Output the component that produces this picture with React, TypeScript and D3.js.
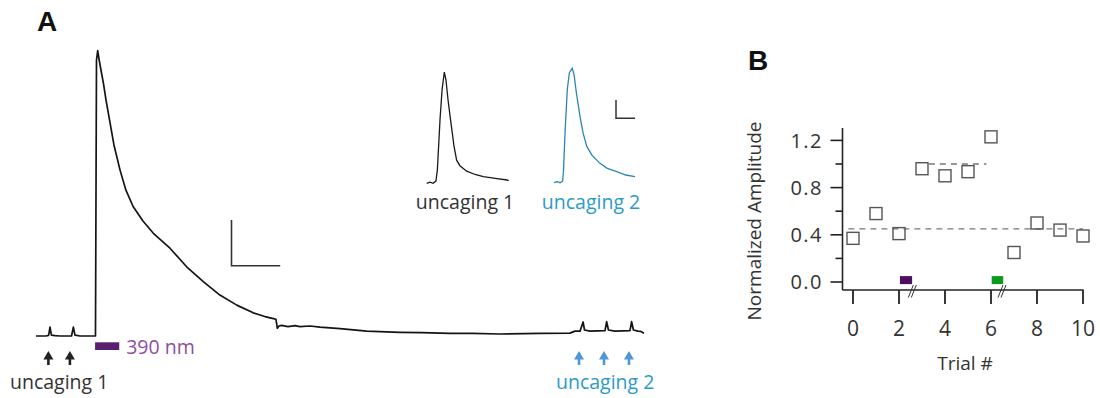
import React from 'react';
import * as d3 from 'd3';

// ---------- Panel A: main fluorescence trace (time s, amplitude a.u.) ----------
const traceTime = [
  0, 4.9, 6.2, 6.9, 7.6, 9.4, 11.8, 17.5, 18.4, 19.2, 21.7, 29.3,
  29.8, 30.4, 31, 32, 33.2, 34.5, 36.5, 38.4, 41.4, 44.3, 47.9, 52.7, 57.8,
  66, 74.2, 82.4, 90.6, 98.9, 107, 112.8, 116.9, 118.2, 118.9, 119.7, 121,
  124.1, 127.6, 130, 135, 139.9, 149.8, 162.9, 179.3, 190, 203.9, 215, 228.6,
  248.3, 263, 265.5, 268, 269.5, 270.2, 272.9, 280.3, 281.1,
  282, 285.2, 292.6, 293.4, 294.3, 296.5, 298, 299.5,
];
const traceValue = [
  0, 0, 0.2, 3.1, 0.3, 0.1, 0, 0, 3.1, 0.3, 0, 0,
  96.5, 99.8, 97, 93, 88.4, 82.5, 74.4, 66.8, 58, 51, 45.2, 40.2, 35.9,
  30.7, 24.2, 19, 14.3, 10.8, 8.1, 6.8, 6.1, 5.8, 2.7, 3.5, 3.7,
  3.3, 3.6, 3.3, 3.5, 3.1, 2.6, 1.7, 1.3, 1.2, 0.9, 0.9, 0.7,
  0.9, 1.0, 1.7, 1.7, 4.9, 2.1, 1.7, 1.9, 5.0,
  2.1, 1.7, 1.9, 5.0, 2.1, 1.7, 1.6, 1.0,
];
const uncaging1Arrows = [6.1, 16.7];
const uncaging2Arrows = [267.5, 279.8, 292.1];
const lightOn = [29.1, 41.0];
const mainScaleBar = { seconds: 24, amplitude: 16 };

// ---------- Panel A insets (time s, normalized) ----------
const inset1Time = [0, 1.6, 3.1, 4.5, 5.2, 6.5, 7.5, 8.6, 9.4, 10.4, 11.4, 12.4, 13.3, 14.6, 16.2, 19.5, 23.6, 27.6, 33.5, 39.2, 40];
const inset1Value = [0, 0.01, 0, 0.02, 0.12, 0.58, 0.85, 1.01, 0.94, 0.76, 0.61, 0.47, 0.34, 0.21, 0.16, 0.11, 0.08, 0.06, 0.044, 0.03, 0.025];
const inset2Time = [0, 1.5, 3, 4.2, 4.6, 5.5, 6.5, 7.5, 8.9, 9.8, 10.9, 12.7, 14.2, 16, 18.5, 22.4, 26, 30.6, 35, 39.5];
const inset2Value = [0, 0.01, 0, 0.015, 0.1, 0.5, 0.85, 1.0, 1.04, 0.98, 0.82, 0.6, 0.45, 0.33, 0.25, 0.176, 0.13, 0.1, 0.07, 0.055];
const insetScaleBar = { seconds: 9.3, amplitude: 0.166 };

// ---------- Panel B ----------
const trials = [0, 1, 2, 3, 4, 5, 6, 7, 8, 9, 10];
const amplitudes = [0.37, 0.58, 0.41, 0.96, 0.9, 0.935, 1.23, 0.25, 0.5, 0.44, 0.39];
const meanLow = { from: -0.2, to: 10, value: 0.45 };
const meanHigh = { from: 3.3, to: 5.8, value: 1.0 };
const yMajorTicks = [0, 0.4, 0.8, 1.2];
const yMinorTicks = [0.2, 0.6, 1.0];
const xTicks = [0, 2, 4, 6, 8, 10];
const lightMarkers = [
  { from: 2.04, to: 2.57, color: '#4e0f63' },
  { from: 6.03, to: 6.53, color: '#0b9a1c' },
];
const axisBreaks = [2.6, 6.5];

const FONT = "'Open Sans', 'DejaVu Sans', sans-serif";
const BOLD = "'Liberation Sans', Arial, sans-serif";

export default function App() {
  // Panel A scales
  const xA = d3.scaleLinear().domain([0, 300]).range([36, 645]);
  const yA = d3.scaleLinear().domain([0, 100]).range([336, 50]);
  const mainLine = d3
    .line<number>()
    .x((_, i) => xA(traceTime[i]))
    .y((d) => yA(d));

  const xI = d3.scaleLinear().domain([0, 40]).range([0, 82]);
  const yI = d3.scaleLinear().domain([0, 1]).range([0, -110]);
  const inset1 = d3.line<number>().x((_, i) => xI(inset1Time[i])).y((d) => yI(d));
  const inset2 = d3.line<number>().x((_, i) => xI(inset2Time[i])).y((d) => yI(d));

  // Panel B scales
  const xB = d3.scaleLinear().domain([0, 10]).range([853, 1083]);
  const yB = d3.scaleLinear().domain([0, 1.2]).range([282, 140.4]);
  const axisX = 842.5;
  const axisY = 290;

  const arrow = (x: number, color: string, key: string) => (
    <g key={key}>
      <line x1={x} x2={x} y1={356} y2={365} stroke={color} strokeWidth={2.6} />
      <path d={`M${x - 5},${359.5} L${x},${351} L${x + 5},${359.5} Z`} fill={color} />
    </g>
  );

  const sbX0 = 231.5;
  const sbY0 = 265.7;

  return (
    <svg width={1100} height={398} style={{ position: 'absolute', left: 0, top: 0, background: '#fff' }}>
      <rect width={1100} height={398} fill="#fff" />
      {/* Panel labels */}
      <text x={37} y={31} fontFamily={BOLD} fontWeight="bold" fontSize={28} fill="#111">A</text>
      <text x={748} y={70} fontFamily={BOLD} fontWeight="bold" fontSize={28} fill="#111">B</text>

      {/* Main trace */}
      <path d={mainLine(traceValue) || ''} fill="none" stroke="#141414" strokeWidth={1.7} strokeLinejoin="round" />

      {/* Main scale bar */}
      <path
        d={`M${sbX0},${sbY0 - (yA(0) - yA(mainScaleBar.amplitude))} L${sbX0},${sbY0} L${sbX0 + (xA(mainScaleBar.seconds) - xA(0))},${sbY0}`}
        fill="none"
        stroke="#333"
        strokeWidth={1.6}
      />

      {/* 390 nm light */}
      <rect x={xA(lightOn[0])} y={342.3} width={xA(lightOn[1]) - xA(lightOn[0])} height={7.7} fill="#5a1f6e" />
      <text x={xA(lightOn[1]) + 7} y={353.5} fontFamily={FONT} fontSize={19.5} fill="#8d4fa3">390 nm</text>

      {/* Arrows */}
      {uncaging1Arrows.map((t, i) => arrow(xA(t), '#222', 'a' + i))}
      {uncaging2Arrows.map((t, i) => arrow(xA(t), '#4f97d6', 'b' + i))}
      <text x={10} y={389} fontFamily={FONT} fontSize={19.5} fill="#333">uncaging 1</text>
      <text x={556} y={389} fontFamily={FONT} fontSize={19.5} fill="#2b9bc8">uncaging 2</text>

      {/* Insets */}
      <g transform="translate(426.7,183.3)">
        <path d={inset1(inset1Value) || ''} fill="none" stroke="#1a1a1a" strokeWidth={1.3} />
      </g>
      <g transform="translate(554,182.7)">
        <path d={inset2(inset2Value) || ''} fill="none" stroke="#2a85b3" strokeWidth={1.3} />
      </g>
      <path
        d={`M616,${118.3 + yI(insetScaleBar.amplitude)} L616,118.3 L${616 + xI(insetScaleBar.seconds)},118.3`}
        fill="none"
        stroke="#333"
        strokeWidth={1.5}
      />
      <text x={465} y={209} textAnchor="middle" fontFamily={FONT} fontSize={19.5} fill="#333">uncaging 1</text>
      <text x={591} y={209} textAnchor="middle" fontFamily={FONT} fontSize={19.5} fill="#2b9bc8">uncaging 2</text>

      {/* Panel B axes */}
      <line x1={axisX} x2={axisX} y1={128} y2={axisY} stroke="#222" strokeWidth={1.6} />
      <line x1={axisX} x2={1083.5} y1={axisY} y2={axisY} stroke="#222" strokeWidth={1.6} />
      {yMajorTicks.map((v) => (
        <g key={'ym' + v}>
          <line x1={axisX - 12} x2={axisX} y1={yB(v)} y2={yB(v)} stroke="#222" strokeWidth={1.6} />
          <text x={823} y={yB(v)} dy="0.36em" textAnchor="end" fontFamily={FONT} fontSize={20} letterSpacing={1.5} fill="#333">
            {v.toFixed(1)}
          </text>
        </g>
      ))}
      {yMinorTicks.map((v) => (
        <line key={'yn' + v} x1={axisX - 7} x2={axisX} y1={yB(v)} y2={yB(v)} stroke="#222" strokeWidth={1.6} />
      ))}
      {xTicks.map((v) => (
        <g key={'x' + v}>
          <line x1={xB(v)} x2={xB(v)} y1={axisY} y2={axisY + 14} stroke="#222" strokeWidth={1.8} />
          <text x={xB(v)} y={336} textAnchor="middle" fontFamily={FONT} fontSize={21} fill="#333">
            {v}
          </text>
        </g>
      ))}
      {axisBreaks.map((v) => (
        <g key={'br' + v}>
          <line x1={xB(v) - 4.5} y1={297.5} x2={xB(v) + 0.5} y2={285} stroke="#333" strokeWidth={1} />
          <line x1={xB(v) - 1.5} y1={297.5} x2={xB(v) + 3.5} y2={285} stroke="#333" strokeWidth={1} />
        </g>
      ))}
      {lightMarkers.map((m, i) => (
        <rect key={'lm' + i} x={xB(m.from)} y={yB(0.05)} width={xB(m.to) - xB(m.from)} height={yB(-0.018) - yB(0.05)} fill={m.color} />
      ))}

      {/* Mean dashed lines */}
      {[meanLow, meanHigh].map((m, i) => (
        <line key={'mean' + i} x1={xB(m.from)} x2={xB(m.to)} y1={yB(m.value)} y2={yB(m.value)} stroke="#777" strokeWidth={1.3} strokeDasharray="6,5" />
      ))}

      {/* Squares */}
      {trials.map((t, i) => (
        <rect key={'sq' + t} x={xB(t) - 6} y={yB(amplitudes[i]) - 6} width={12} height={12} fill="#fff" fillOpacity={0} stroke="#555" strokeWidth={1.4} />
      ))}

      {/* Axis titles */}
      <text x={965} y={370} textAnchor="middle" fontFamily={FONT} fontSize={19} fill="#333">Trial #</text>
      <text transform="translate(761,221) rotate(-90)" textAnchor="middle" fontFamily={FONT} fontSize={19} fill="#333">
        Normalized Amplitude
      </text>
    </svg>
  );
}
